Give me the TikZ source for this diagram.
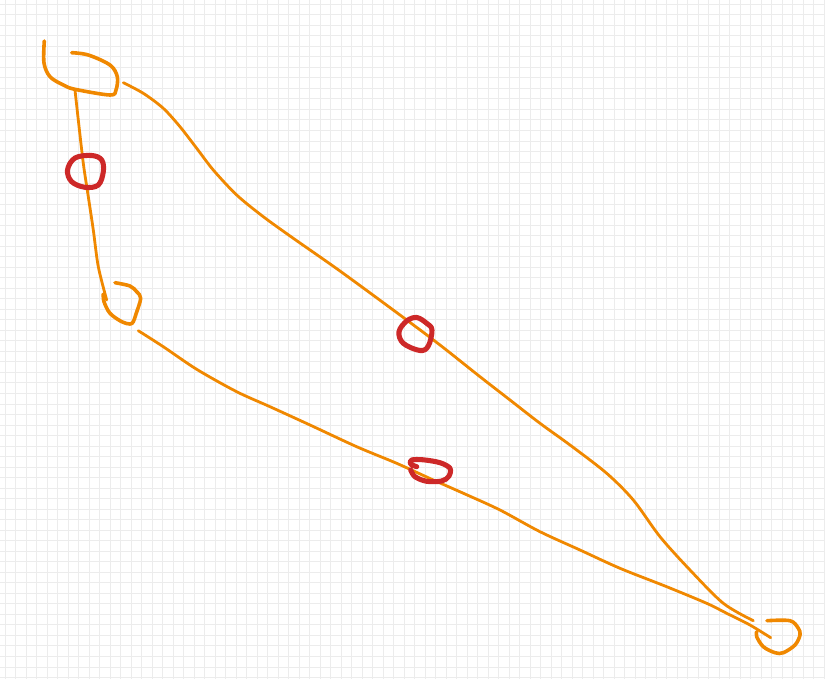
\documentclass[tikz,border=0pt]{standalone}
\definecolor{sketchorange}{RGB}{240,136,0}
\definecolor{sketchred}{RGB}{205,40,40}
\definecolor{gridgray}{RGB}{236,236,236}
\tikzset{
  gridline/.style={draw=gridgray, line width=0.5pt},
  nodestroke/.style={draw=sketchorange, line width=2.7pt, line cap=round, line join=round},
  edge/.style={draw=sketchorange, line width=2.1pt, line cap=round, line join=round},
  marker/.style={draw=sketchred, line width=3.8pt, line cap=round, line join=round},
}
\begin{document}
\begin{tikzpicture}[x=0.75pt, y=-0.75pt]
\useasboundingbox (0,0) rectangle (825,679);
\fill[white] (0,0) rectangle (825,679);
% grid
\foreach \i in {0,...,78} {
  \draw[gridline] ({5+10.5*\i},0) -- ({5+10.5*\i},679);
}
\foreach \j in {0,...,64} {
  \draw[gridline] (0,{4.1+10.52*\j}) -- (825,{4.1+10.52*\j});
}

% ---- node A (top-left)
\coordinate (A) at (80,68);
\draw[nodestroke] plot[smooth, tension=0.55] coordinates {
  (44.3,41) (44,63) (50,76.7) (63.3,85) (75,89.3) (110,95) (116,90)
  (117.3,76.7) (110,65) (88.3,55) (71.7,52.7)};
\coordinate (A-b) at (75,90);
\coordinate (A-r) at (123.3,82.7);

% ---- node B (middle-left)
\coordinate (B) at (122,303);
\draw[nodestroke] plot[smooth, tension=0.55] coordinates {
  (115,282.7) (130,286) (136.7,291.7) (140.7,298.3) (136,314) (133.3,321.7)
  (130,324) (121.7,321.7) (110,313.3) (104,301.7) (103.3,294)};
\coordinate (B-t) at (106.7,300);
\coordinate (B-r) at (138.3,330.7);

% ---- node C (bottom-right)
\coordinate (C) at (780,636);
\draw[nodestroke] plot[smooth, tension=0.55] coordinates {
  (767,620.7) (790,620.7) (798.3,628.3) (800,635) (795,645) (783.3,652.7)
  (775,652.7) (763.3,646.7) (756.7,636.7) (756.7,631.7)};
\coordinate (C-a) at (753.3,620.7);
\coordinate (C-b) at (770.7,637.7);

% ---- edge A -> B
\draw[edge] plot[smooth, tension=0.5] coordinates {
  (A-b) (78.3,120) (83.3,163.3) (88.3,196.7) (93.3,230) (98.3,266.7) (B-t)};

% ---- edge A -> C
\draw[edge] plot[smooth, tension=0.5] coordinates {
  (A-r) (143.3,93.3) (163.3,108.3) (180,126.7) (196.7,148.3) (213.3,170)
  (236.7,195) (263.3,216.7) (293.3,238.3) (340,271) (400,315) (440,345)
  (480,376.7) (510,400) (540,423.3) (570,445) (606.7,473.3) (633.3,500)
  (660,536.7) (690,570) (723.3,603.3) (C-a)};

% ---- edge B -> C
\draw[edge] plot[smooth, tension=0.5] coordinates {
  (B-r) (163.3,346.7) (196.7,369.3) (236.7,391.7) (270,406.7) (310,425)
  (356.7,446.7) (396.7,463.3) (430,478.5) (465,494) (500,510) (540,531.7)
  (580,550) (620,568.3) (666.7,586.7) (706.7,603.3) (726.7,613.3) (750,625) (C-b)};

% ---- red markers
\coordinate (m1) at (86,171);
\draw[marker] plot[smooth cycle, tension=0.6] coordinates {
  (67.5,170) (75,158) (91.7,155.5) (101.7,160) (103.3,171.7) (98.3,185)
  (85,187.3) (71.7,181.7)};
\coordinate (m2) at (416,334);
\draw[marker] plot[smooth cycle, tension=0.6] coordinates {
  (399,331.7) (406.7,321) (416.7,317.5) (426.7,323.3) (432,330) (428.3,346)
  (420,350.5) (403.3,343.3)};
\coordinate (m3) at (430,470);
\draw[marker] plot[smooth, tension=0.55] coordinates {
  (416.7,466.7) (410.7,464) (411.7,460) (423.3,459.8) (440,462.7) (450,468.3)
  (448.8,476.3) (441.7,481) (426.7,481.3) (415,476.7) (410.7,470)};
\end{tikzpicture}
\end{document}
